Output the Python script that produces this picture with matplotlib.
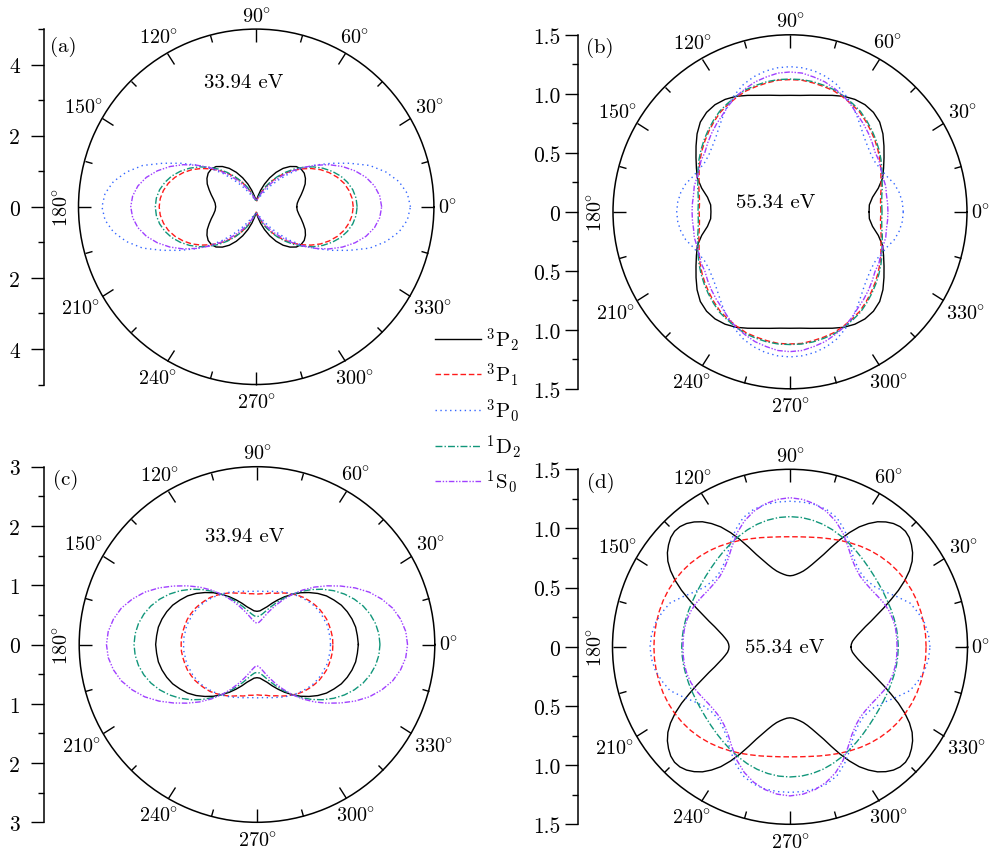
import numpy as np
import matplotlib
matplotlib.use('Agg')
import matplotlib.pyplot as plt

plt.rcParams['font.family'] = ['cmr10', 'DejaVu Serif']
plt.rcParams['mathtext.fontset'] = 'cm'
plt.rcParams['axes.unicode_minus'] = False
plt.rcParams['axes.formatter.use_mathtext'] = True

# angles of one quadrant (deg); the distributions are mirror-symmetric about both axes
angles = [0, 5, 10, 15, 20, 25, 30, 35, 40, 45, 50, 55, 60, 65, 70, 75, 80, 85, 90]
angles_fine = [0, 2.5, 5, 7.5, 10, 12.5, 15, 17.5, 20, 22.5, 25, 27.5, 30, 32.5, 35, 37.5, 40, 42.5, 45,
               47.5, 50, 52.5, 55, 57.5, 60, 62.5, 65, 67.5, 70, 72.5, 75, 77.5, 80, 82.5, 85, 87.5, 90]

# (a) 33.94 eV
a_3P2 = [1.14, 1.16, 1.22, 1.31, 1.41, 1.52, 1.60, 1.65, 1.65, 1.60, 1.48, 1.32, 1.12, 0.90, 0.68, 0.48, 0.32, 0.22, 0.18]
a_3P1 = [2.73, 2.71, 2.65, 2.56, 2.43, 2.27, 2.09, 1.88, 1.66, 1.44, 1.22, 1.00, 0.80, 0.61, 0.45, 0.32, 0.23, 0.17, 0.15]
a_3P0 = [4.34, 4.27, 4.08, 3.78, 3.40, 2.90, 2.45, 2.05, 1.68, 1.33, 1.00, 0.74, 0.53, 0.39, 0.30, 0.24, 0.22, 0.20, 0.20]
a_1D2 = [2.84, 2.82, 2.76, 2.66, 2.53, 2.36, 2.17, 1.96, 1.73, 1.50, 1.26, 1.03, 0.82, 0.63, 0.46, 0.33, 0.23, 0.17, 0.15]
a_1S0 = [3.53, 3.49, 3.38, 3.20, 2.96, 2.68, 2.37, 2.04, 1.72, 1.42, 1.14, 0.90, 0.69, 0.52, 0.39, 0.30, 0.23, 0.19, 0.18]

# (b) 55.34 eV
b_3P2 = [0.67, 0.675, 0.71, 0.775, 0.835, 0.875, 0.92, 0.972, 1.028, 1.075, 1.10, 1.108, 1.10, 1.08, 1.05, 1.022, 1.003, 0.99, 0.987]
b_3P1 = [0.77, 0.77, 0.78, 0.80, 0.82, 0.85, 0.88, 0.91, 0.94, 0.97, 1.00, 1.03, 1.05, 1.07, 1.09, 1.10, 1.11, 1.12, 1.12]
b_3P0 = [0.96, 0.955, 0.94, 0.915, 0.875, 0.85, 0.835, 0.84, 0.86, 0.89, 0.935, 0.99, 1.05, 1.10, 1.15, 1.185, 1.21, 1.225, 1.23]
b_1D2 = [0.78, 0.78, 0.79, 0.81, 0.83, 0.86, 0.89, 0.92, 0.95, 0.98, 1.01, 1.04, 1.06, 1.08, 1.10, 1.11, 1.12, 1.125, 1.125]
b_1S0 = [0.83, 0.83, 0.83, 0.84, 0.84, 0.85, 0.87, 0.88, 0.91, 0.94, 0.97, 1.00, 1.04, 1.08, 1.11, 1.14, 1.16, 1.18, 1.185]

# (c) 33.94 eV
c_3P2 = [1.71, 1.70, 1.69, 1.66, 1.62, 1.57, 1.50, 1.43, 1.34, 1.24, 1.14, 1.03, 0.93, 0.83, 0.74, 0.66, 0.61, 0.57, 0.56]
c_3P1 = [1.28, 1.28, 1.27, 1.26, 1.25, 1.23, 1.21, 1.18, 1.15, 1.12, 1.08, 1.04, 1.00, 0.96, 0.92, 0.90, 0.87, 0.86, 0.85]
c_3P0 = [1.24, 1.24, 1.23, 1.23, 1.21, 1.20, 1.18, 1.16, 1.13, 1.10, 1.07, 1.04, 1.01, 0.98, 0.95, 0.93, 0.91, 0.90, 0.90]
c_1D2 = [2.075, 2.064, 2.031, 1.977, 1.904, 1.811, 1.703, 1.582, 1.450, 1.312, 1.171, 1.033, 0.901, 0.780, 0.674, 0.587, 0.523, 0.483, 0.470]
c_1S0 = [2.54, 2.52, 2.46, 2.37, 2.24, 2.09, 1.91, 1.72, 1.54, 1.37, 1.20, 1.03, 0.866, 0.719, 0.593, 0.493, 0.420, 0.375, 0.360]

# (d) 55.34 eV  (3P2 read on the finer angle list)
d_3P2 = [0.515, 0.519, 0.53, 0.552, 0.58, 0.617, 0.66, 0.717, 0.78, 0.857, 0.94, 1.033, 1.12, 1.197, 1.26, 1.306,
         1.34, 1.367, 1.38, 1.377, 1.36, 1.330, 1.29, 1.235, 1.17, 1.088, 1.00, 0.910, 0.83, 0.770, 0.72, 0.680,
         0.65, 0.630, 0.615, 0.604, 0.60]
d_3P1 = [1.150, 1.150, 1.148, 1.145, 1.141, 1.134, 1.125, 1.113, 1.098, 1.080, 1.060, 1.038, 1.015, 0.993, 0.972, 0.955, 0.941, 0.933, 0.930]
d_3P0 = [1.183, 1.175, 1.155, 1.12, 1.08, 1.00, 0.93, 0.88, 0.86, 0.86, 0.885, 0.93, 1.01, 1.09, 1.16, 1.20, 1.22, 1.228, 1.23]
d_1D2 = [0.915, 0.914, 0.913, 0.911, 0.910, 0.910, 0.913, 0.919, 0.929, 0.943, 0.961, 0.982, 1.005, 1.029, 1.052, 1.072, 1.087, 1.097, 1.100]
d_1S0 = [0.905, 0.905, 0.905, 0.90, 0.89, 0.875, 0.855, 0.84, 0.835, 0.84, 0.865, 0.91, 0.98, 1.06, 1.13, 1.185, 1.225, 1.25, 1.26]

data = {
    'a': [a_3P2, a_3P1, a_3P0, a_1D2, a_1S0],
    'b': [b_3P2, b_3P1, b_3P0, b_1D2, b_1S0],
    'c': [c_3P2, c_3P1, c_3P0, c_1D2, c_1S0],
    'd': [d_3P2, d_3P1, d_3P0, d_1D2, d_1S0],
}
energies = {'a': '33.94 eV', 'b': '55.34 eV', 'c': '33.94 eV', 'd': '55.34 eV'}

labels = [r'$^3\mathrm{P}_2$', r'$^3\mathrm{P}_1$', r'$^3\mathrm{P}_0$',
          r'$^1\mathrm{D}_2$', r'$^1\mathrm{S}_0$']
colors = ['black', '#ff1a1a', '#3366ff', '#11967a', '#a040ff']
styles = ['-', (0, (4, 2)), (0, (1, 2.5)), (0, (5, 1.5, 1, 1.5)), (0, (4, 1.2, 1, 1.2, 1, 1.2))]


def full(q):
    # mirror one quadrant round the whole circle
    q = np.asarray(q, dtype=float)
    return np.concatenate([q, q[-2::-1], q[1:], q[-2::-1]])


def full_theta(ang):
    ang = np.asarray(ang, dtype=float)
    return np.deg2rad(np.concatenate([ang, 180 - ang[-2::-1], 180 + ang[1:], 360 - ang[-2::-1]]))


fig = plt.figure(figsize=(9.93, 8.53), dpi=100)
W, H = 993, 853

lab_r = [1.075, 1.125, 1.105, 1.075, 1.10, 1.125, 1.095, 1.14, 1.11, 1.10, 1.11, 1.145]

panels = {
    'a': dict(c=(256.2, 207.8), R=177.7, rmax=5, bar=43.7, maj=[4, 2, 0, -2, -4],
              lab=['4', '2', '0', '2', '4'], minor=[5, 3, 1, -1, -3, -5], evp=(0.4637, 0.850),
              tag=(63.3, 46.7), pad=7.5),
    'b': dict(c=(790, 212.8), R=177, rmax=1.5, bar=577.7, maj=[1.5, 1.0, 0.5, 0, -0.5, -1.0, -1.5],
              lab=['1.5', '1.0', '0.5', '0', '0.5', '1.0', '1.5'], minor=[1.25, 0.75, 0.25, -0.25, -0.75, -1.25],
              evp=(0.460, 0.5285), tag=(599.3, 48.3), pad=3),
    'c': dict(c=(257, 645.5), R=177.8, rmax=3, bar=43.7, maj=[3, 2, 1, 0, -1, -2, -3],
              lab=['3', '2', '1', '0', '1', '2', '3'], minor=[2.5, 1.5, 0.5, -0.5, -1.5, -2.5],
              evp=(0.466, 0.806), tag=(65.7, 480), pad=7.5),
    'd': dict(c=(790, 647.8), R=177.5, rmax=1.5, bar=577.7, maj=[1.5, 1.0, 0.5, 0, -0.5, -1.0, -1.5],
              lab=['1.5', '1.0', '0.5', '0', '0.5', '1.0', '1.5'], minor=[1.25, 0.75, 0.25, -0.25, -0.75, -1.25],
              evp=(0.486, 0.50), tag=(600.7, 482.7), pad=3),
}

handles = []
for key, p in panels.items():
    cx, cy = p['c']
    R = p['R']
    rect = [(cx - R) / W, 1 - (cy + R) / H, 2 * R / W, 2 * R / H]
    ax = fig.add_axes(rect, projection='polar')
    for q, col, ls, lab in zip(data[key], colors, styles, labels):
        ang = angles if len(q) == len(angles) else angles_fine
        ln, = ax.plot(full_theta(ang), full(q), color=col, ls=ls, lw=1.0, label=lab)
        if key == 'a':
            handles.append(ln)
    ax.set_ylim(0, p['rmax'])
    ax.set_yticks([])
    ax.grid(False)
    ax.set_xticks(np.deg2rad(np.arange(0, 360, 30)))
    ax.set_xticks(np.deg2rad(np.arange(15, 360, 30)), minor=True)
    ax.set_xticklabels([])
    ax.xaxis.set_ticks_position('top')
    ax.tick_params(axis='x', which='major', direction='in', length=9.5, width=1.0)
    ax.tick_params(axis='x', which='minor', direction='in', length=5, width=1.0)
    ax.spines['polar'].set_linewidth(1.1)
    for a, f in zip(range(0, 360, 30), lab_r):
        ax.text(np.deg2rad(a), p['rmax'] * f, r'$%d\!^\circ$' % a, ha='center', va='center',
                fontsize=14.5, rotation=90 if a == 180 else 0, clip_on=False)
    ax.text(p['evp'][0], p['evp'][1], energies[key], transform=ax.transAxes, ha='center', va='center',
            fontsize=15)
    fig.text(p['tag'][0] / W, 1 - p['tag'][1] / H, '(%s)' % key, ha='center', va='center', fontsize=15)

    # radial scale drawn as a separate vertical axis on the left
    bx = fig.add_axes([p['bar'] / W, rect[1], 0.0001, rect[3]])
    bx.set_facecolor('none')
    for s in ['top', 'right', 'bottom']:
        bx.spines[s].set_visible(False)
    bx.spines['left'].set_linewidth(1.1)
    bx.set_xticks([])
    bx.set_ylim(-p['rmax'], p['rmax'])
    bx.set_yticks(p['maj'])
    bx.set_yticklabels(p['lab'])
    bx.set_yticks(p['minor'], minor=True)
    bx.tick_params(axis='y', which='major', direction='out', length=9.5, width=1.0, labelsize=15.5,
                   pad=p['pad'])
    bx.tick_params(axis='y', which='minor', direction='out', length=4.5, width=1.0)

fig.legend(handles=handles, loc='upper left', bbox_to_anchor=(435 / W, 1 - 326 / H), frameon=False,
           fontsize=15, handlelength=2.2, handletextpad=0.25, labelspacing=0.38, borderpad=0, borderaxespad=0)

fig.savefig('out.png', dpi=100)
